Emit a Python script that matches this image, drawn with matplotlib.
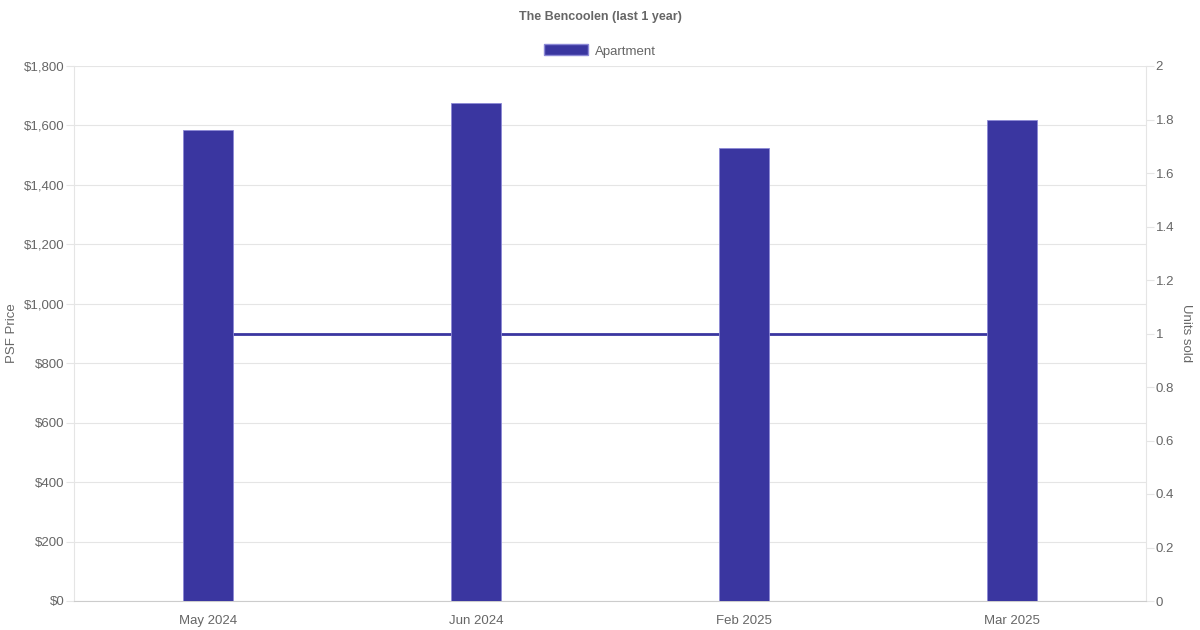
import matplotlib
matplotlib.use("Agg")
import matplotlib.pyplot as plt
import numpy as np
from matplotlib.patches import Patch

plt.rcParams["font.family"] = ["Liberation Sans", "DejaVu Sans"]

months = ["May 2024", "Jun 2024", "Feb 2025", "Mar 2025"]
psf_price = [1585, 1675, 1523, 1618]
units_sold = [1, 1, 1, 1]
price_ticks = [0, 200, 400, 600, 800, 1000, 1200, 1400, 1600, 1800]
unit_ticks = [0, 0.2, 0.4, 0.6, 0.8, 1, 1.2, 1.4, 1.6, 1.8, 2]

BAR = "#3a36a0"
TEXT = "#666666"
GRID = "#e5e5e5"

fig = plt.figure(figsize=(12, 6.3), dpi=100)
ax = fig.add_axes([74 / 1200, 1 - 601 / 630, (1146 - 74) / 1200, (601 - 66) / 630])
ax2 = ax.twinx()

x = np.arange(len(months))
ax.bar(x, psf_price, width=0.187, color=BAR, edgecolor="#8c89d6", lw=0.6, zorder=3)
ax2.plot(x, units_sold, color=BAR, lw=2.0, zorder=1)
# keep the bars above the line
ax.set_zorder(ax2.get_zorder() + 1)
ax.patch.set_visible(False)

ax.set_xlim(-0.5, len(months) - 0.5)
ax.set_ylim(0, 1800)
ax2.set_ylim(0, 2)
ax.set_yticks(price_ticks)
ax.set_yticklabels([f"${v:,}" for v in price_ticks])
ax2.set_yticks(unit_ticks)
ax2.set_yticklabels([f"{v:g}" for v in unit_ticks])
ax.set_xticks(x)
ax.set_xticklabels(months)

ax.grid(axis="y", color=GRID, lw=0.8, zorder=0)
ax.set_axisbelow(True)
for a in (ax, ax2):
    for s in a.spines.values():
        s.set_visible(False)
    a.tick_params(colors=TEXT, labelsize=9.5, length=6, width=0.8)
    a.tick_params(axis="y", color=GRID, pad=1)
ax.tick_params(axis="x", length=0, pad=10)
ax.spines["left"].set_visible(True)
ax.spines["left"].set_color(GRID)
ax.spines["bottom"].set_visible(True)
ax.spines["bottom"].set_color("#cccccc")
ax2.spines["right"].set_visible(True)
ax2.spines["right"].set_color(GRID)

ax.set_ylabel("PSF Price", color=TEXT, fontsize=9.5, labelpad=4)
ax2.set_ylabel("Units sold", color=TEXT, fontsize=9.5, rotation=-90, labelpad=13)

fig.text(0.5, 1 - 17 / 630, "The Bencoolen (last 1 year)", ha="center", va="center",
         color=TEXT, fontsize=9, fontweight="bold")
fig.legend(handles=[Patch(facecolor=BAR, edgecolor="#8c89d6", label="Apartment")],
           loc="center", bbox_to_anchor=(0.5, 1 - 51 / 630), frameon=False,
           fontsize=9.5, labelcolor=TEXT, handlelength=3.3, handleheight=0.9,
           handletextpad=0.5)

fig.savefig("out.png", dpi=100)
